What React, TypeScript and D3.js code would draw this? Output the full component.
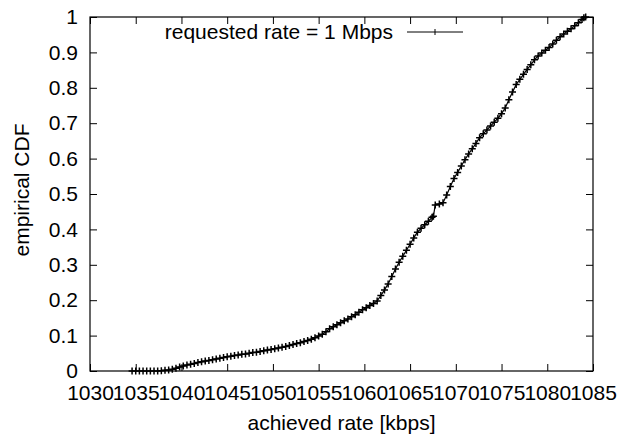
import React, { useEffect, useRef } from "react";
import * as d3 from "d3";

// achieved rate [kbps]
const rates = [
  1034.6, 1035.0, 1035.4, 1035.8, 1036.2, 1036.6, 1037.0, 1037.4, 1037.8, 1038.2,
  1038.6, 1039.0, 1039.4, 1039.8, 1040.2, 1040.6, 1041.0, 1041.4, 1041.8, 1042.2,
  1042.6, 1043.0, 1043.4, 1043.8, 1044.2, 1044.6, 1045.0, 1045.4, 1045.8, 1046.2,
  1046.6, 1047.0, 1047.4, 1047.8, 1048.2, 1048.6, 1049.0, 1049.4, 1049.8, 1050.2,
  1050.6, 1051.0, 1051.4, 1051.8, 1052.2, 1052.6, 1053.0, 1053.4, 1053.8, 1054.2,
  1054.6, 1055.0, 1055.4, 1055.8, 1056.2, 1056.6, 1057.0, 1057.4, 1057.8, 1058.2,
  1058.6, 1059.0, 1059.4, 1059.8, 1060.2, 1060.6, 1061.0, 1061.4, 1061.8, 1062.2,
  1062.6, 1063.0, 1063.4, 1063.8, 1064.2, 1064.6, 1065.0, 1065.4, 1065.8, 1066.2,
  1066.6, 1067.0, 1067.4, 1067.55, 1067.75, 1068.2, 1068.6, 1069.0, 1069.4, 1069.8,
  1070.2, 1070.6, 1071.0, 1071.4, 1071.8, 1072.2, 1072.6, 1073.0, 1073.4, 1073.8,
  1074.2, 1074.6, 1075.0, 1075.4, 1075.8, 1076.2, 1076.6, 1077.0, 1077.4, 1077.8,
  1078.2, 1078.6, 1079.0, 1079.4, 1079.8, 1080.2, 1080.6, 1081.0, 1081.4, 1081.8,
  1082.2, 1082.6, 1083.0, 1083.4, 1083.8, 1084.0, 1084.2,
];

// empirical CDF at each rate
const cdf = [
  0, 0, 0, 0, 0, 0, 0, 0.0002, 0.001, 0.002,
  0.003, 0.005, 0.008, 0.011, 0.014, 0.017, 0.019, 0.021, 0.024, 0.026,
  0.028, 0.030, 0.032, 0.034, 0.036, 0.038, 0.040, 0.042, 0.044, 0.045,
  0.047, 0.048, 0.050, 0.052, 0.053, 0.055, 0.057, 0.059, 0.061, 0.063,
  0.065, 0.067, 0.069, 0.072, 0.075, 0.078, 0.080, 0.083, 0.086, 0.090,
  0.094, 0.099, 0.104, 0.111, 0.119, 0.125, 0.131, 0.136, 0.142, 0.147,
  0.153, 0.159, 0.166, 0.173, 0.179, 0.185, 0.191, 0.198, 0.213, 0.229,
  0.246, 0.267, 0.288, 0.307, 0.324, 0.341, 0.358, 0.376, 0.392, 0.403,
  0.413, 0.423, 0.434, 0.437, 0.469, 0.472, 0.475, 0.497, 0.521, 0.544,
  0.561, 0.579, 0.597, 0.613, 0.628, 0.643, 0.659, 0.670, 0.681, 0.692,
  0.703, 0.714, 0.727, 0.743, 0.766, 0.788, 0.809, 0.824, 0.838, 0.852,
  0.865, 0.879, 0.890, 0.898, 0.906, 0.914, 0.924, 0.934, 0.944, 0.952,
  0.960, 0.967, 0.975, 0.984, 0.993, 0.998, 1.0,
];

const xTicks = [1030, 1035, 1040, 1045, 1050, 1055, 1060, 1065, 1070, 1075, 1080, 1085];
const yTicks = [0, 0.1, 0.2, 0.3, 0.4, 0.5, 0.6, 0.7, 0.8, 0.9, 1];
const yTickLabels = ["0", "0.1", "0.2", "0.3", "0.4", "0.5", "0.6", "0.7", "0.8", "0.9", "1"];
const legendLabel = "requested rate = 1 Mbps";

function App() {
  const width = 617;
  const height = 436;
  const margin = { top: 17, right: 24, bottom: 65, left: 90 };
  const svgRef = useRef<SVGSVGElement>(null);

  useEffect(() => {
    const svg = d3.select(svgRef.current);
    svg.selectAll("*").remove();
    const font = "'Liberation Sans', Arial, Helvetica, sans-serif";
    const fontSize = 21;

    const x = d3.scaleLinear().domain([1030, 1085]).range([margin.left, width - margin.right]);
    const y = d3.scaleLinear().domain([0, 1]).range([height - margin.bottom, margin.top]);

    // axes with inward ticks (gnuplot style)
    const styleAxis = (g) => {
      g.select(".domain").remove();
      g.selectAll("line").attr("stroke", "#000");
      g.selectAll("text").attr("fill", "#000").attr("font-size", fontSize).attr("font-family", font);
    };

    svg
      .append("g")
      .attr("transform", `translate(0,${y(0)})`)
      .call(d3.axisBottom(x).tickValues(xTicks).tickSize(-7).tickPadding(14.5).tickFormat(d3.format("d")))
      .call(styleAxis);
    svg
      .append("g")
      .attr("transform", `translate(0,${y(1)})`)
      .call(d3.axisTop(x).tickValues(xTicks).tickSize(-7).tickFormat(() => ""))
      .call(styleAxis);
    svg
      .append("g")
      .attr("transform", `translate(${x(1030)},0)`)
      .call(d3.axisLeft(y).tickValues(yTicks).tickSize(-7).tickPadding(12).tickFormat((d, i) => yTickLabels[i]))
      .call(styleAxis);
    svg
      .append("g")
      .attr("transform", `translate(${x(1085)},0)`)
      .call(d3.axisRight(y).tickValues(yTicks).tickSize(-7).tickFormat(() => ""))
      .call(styleAxis);

    // frame
    svg
      .append("rect")
      .attr("x", x(1030))
      .attr("y", y(1))
      .attr("width", x(1085) - x(1030))
      .attr("height", y(0) - y(1))
      .attr("fill", "none")
      .attr("stroke", "#000")
      .attr("stroke-width", 1.2);

    // titles
    svg
      .append("text")
      .attr("x", (x(1030) + x(1085)) / 2)
      .attr("y", 430)
      .attr("text-anchor", "middle")
      .attr("font-size", fontSize)
      .attr("font-family", font)
      .text("achieved rate [kbps]");
    svg
      .append("text")
      .attr("transform", "translate(28.5,190) rotate(-90)")
      .attr("text-anchor", "middle")
      .attr("font-size", fontSize)
      .attr("font-family", font)
      .text("empirical CDF");

    // data line
    const data = rates.map((r, i) => [r, cdf[i]]);
    const line = d3
      .line()
      .x((d) => x(d[0]))
      .y((d) => y(d[1]));
    svg
      .append("path")
      .datum(data)
      .attr("d", line)
      .attr("fill", "none")
      .attr("stroke", "#000")
      .attr("stroke-width", 1.2);

    const plus = (cx, cy) => `M${cx - 3.5},${cy}H${cx + 3.5}M${cx},${cy - 3.5}V${cy + 3.5}`;
    svg
      .append("path")
      .attr("d", data.map((d) => plus(x(d[0]), y(d[1]))).join(""))
      .attr("fill", "none")
      .attr("stroke", "#000")
      .attr("stroke-width", 1.5);

    // legend
    svg
      .append("text")
      .attr("x", 393)
      .attr("y", 38.5)
      .attr("text-anchor", "end")
      .attr("font-size", fontSize)
      .attr("font-family", font)
      .text(legendLabel);
    svg
      .append("line")
      .attr("x1", 407)
      .attr("x2", 463)
      .attr("y1", 32)
      .attr("y2", 32)
      .attr("stroke", "#000");
    svg
      .append("path")
      .attr("d", `M435,29V35`)
      .attr("stroke", "#000");
  }, []);

  return (
    <svg
      ref={svgRef}
      width={width}
      height={height}
      style={{ position: "absolute", left: 0, top: 0, background: "#fff" }}
    ></svg>
  );
}

export default App;
